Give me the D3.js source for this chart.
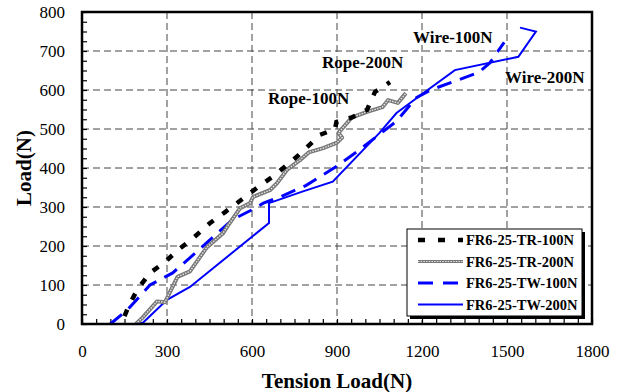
<!DOCTYPE html>
<html>
<head>
<meta charset="utf-8">
<script src="https://cdn.jsdelivr.net/npm/d3@7"></script>
<style>
  body { margin: 0; background: #fff; }
  svg { font-family: "Liberation Serif", "Times New Roman", serif; }
</style>
</head>
<body>
<div id="chart"></div>
<script>
// tension load (N), load (N)
const tr100 = [[150,20],[162,41],[194,87],[240,131],[293,159],[339,190],[392,220],[452,259],[505,287],[565,320],[621,351],[681,382],[760,430],[840,485],[893,500],[898,518],[953,530],[1006,549],[1034,595],[1087,620]];
const tr200 = [[190,0],[212,15],[265,58],[293,56],[337,121],[381,135],[441,197],[498,233],[512,249],[558,297],[593,310],[604,326],[663,343],[688,361],[723,395],[769,420],[800,440],[851,451],[900,465],[918,478],[905,490],[953,530],[1006,544],[1060,556],[1080,574],[1115,567],[1143,592]];
const tw100 = [[100,0],[160,36],[240,100],[320,131],[400,182],[530,267],[603,294],[640,310],[700,326],[790,355],[900,405],[980,447],[1110,520],[1180,580],[1230,600],[1400,645],[1440,670],[1490,722]];
const tw200 = [[190,0],[215,3],[300,62],[381,95],[660,259],[660,310],[780,340],[885,365],[1050,490],[1110,541],[1220,600],[1316,651],[1540,685],[1602,750],[1546,760]];

const xTicks = [0, 300, 600, 900, 1200, 1500, 1800];
const yTicks = [0, 100, 200, 300, 400, 500, 600, 700, 800];

const labels = [
  { text: "Rope-100N", x: 268, y: 98 },
  { text: "Rope-200N", x: 322, y: 62 },
  { text: "Wire-100N", x: 413, y: 37 },
  { text: "Wire-200N", x: 505, y: 77 },
];
const legendNames = ["FR6-25-TR-100N", "FR6-25-TR-200N", "FR6-25-TW-100N", "FR6-25-TW-200N"];

const width = 619, height = 392;
const m = { left: 82, right: 592, top: 12, bottom: 324 };

const svg = d3.select("#chart").append("svg")
  .attr("width", width).attr("height", height);

const x = d3.scaleLinear().domain([0, 1800]).range([m.left, m.right]);
const y = d3.scaleLinear().domain([0, 800]).range([m.bottom, m.top]);

// dashed grid
const grid = svg.append("g").attr("stroke", "#444").attr("stroke-width", 1).attr("stroke-dasharray", "7,4");
grid.selectAll(".gx").data(xTicks.slice(1, -1)).join("line").attr("class", "gx")
  .attr("x1", (d) => x(d)).attr("x2", (d) => x(d)).attr("y1", m.top).attr("y2", m.bottom);
grid.selectAll(".gy").data(yTicks.slice(1, -1)).join("line").attr("class", "gy")
  .attr("y1", (d) => y(d)).attr("y2", (d) => y(d)).attr("x1", m.left).attr("x2", m.right);

// minor ticks, inward
svg.append("g").attr("transform", `translate(0,${m.bottom})`)
  .call(d3.axisBottom(x).tickValues(d3.range(0, 1801, 50)).tickSize(-5).tickFormat(""))
  .call((g) => g.select(".domain").remove())
  .call((g) => g.selectAll("line").attr("stroke", "#000").attr("stroke-width", 1.2));
svg.append("g").attr("transform", `translate(${m.left},0)`)
  .call(d3.axisLeft(y).tickValues(d3.range(0, 801, 25)).tickSize(-5).tickFormat(""))
  .call((g) => g.select(".domain").remove())
  .call((g) => g.selectAll("line").attr("stroke", "#000").attr("stroke-width", 1.2));

// tick labels
svg.append("g").attr("transform", `translate(0,${m.bottom})`)
  .call(d3.axisBottom(x).tickValues(xTicks).tickFormat(d3.format("d")).tickSize(0).tickPadding(21))
  .call((g) => g.select(".domain").remove())
  .call((g) => g.selectAll("text").attr("font-size", 17).attr("font-family", "Liberation Serif").attr("fill", "#000"));
svg.append("g").attr("transform", `translate(${m.left},0)`)
  .call(d3.axisLeft(y).tickValues(yTicks).tickFormat(d3.format("d")).tickSize(0).tickPadding(17))
  .call((g) => g.select(".domain").remove())
  .call((g) => g.selectAll("text").attr("font-size", 17).attr("font-family", "Liberation Serif").attr("fill", "#000"));

const line = d3.line().x((d) => x(d[0])).y((d) => y(d[1]));
const plot = svg.append("g");

// series
plot.append("path").datum(tw200).attr("d", line)
  .attr("fill", "none").attr("stroke", "#0000ff").attr("stroke-width", 2);
plot.append("path").datum(tw100).attr("d", line)
  .attr("fill", "none").attr("stroke", "#0000ff").attr("stroke-width", 3).attr("stroke-dasharray", "15,9");
plot.append("path").datum(tr200).attr("d", line)
  .attr("fill", "none").attr("stroke", "#777").attr("stroke-width", 4).attr("stroke-linejoin", "round");
plot.append("path").datum(tr200).attr("d", line)
  .attr("fill", "none").attr("stroke", "#e6e6e6").attr("stroke-width", 1.4).attr("stroke-dasharray", "1.5,1.2");
plot.append("path").datum(tr100).attr("d", line)
  .attr("fill", "none").attr("stroke", "#000").attr("stroke-width", 4.5).attr("stroke-dasharray", "7,11");

// frame
svg.append("rect").attr("x", m.left).attr("y", m.top).attr("width", m.right - m.left).attr("height", m.bottom - m.top)
  .attr("fill", "none").attr("stroke", "#000").attr("stroke-width", 2.5);

// curve labels
svg.append("g").selectAll("text").data(labels).join("text")
  .attr("x", (d) => d.x).attr("y", (d) => d.y).attr("dy", "0.35em")
  .attr("font-size", 17).attr("font-weight", "bold").text((d) => d.text);

// axis titles
svg.append("text").attr("x", 337).attr("y", 381).attr("dy", "0.35em").attr("text-anchor", "middle")
  .attr("font-size", 21).attr("font-weight", "bold").text("Tension Load(N)");
svg.append("text").attr("transform", "translate(24,168) rotate(-90)").attr("dy", "0.35em").attr("text-anchor", "middle")
  .attr("font-size", 21).attr("font-weight", "bold").text("Load(N)");

// legend
const lg = svg.append("g").attr("transform", "translate(407,229)");
lg.append("rect").attr("x", 3).attr("y", 3).attr("width", 175).attr("height", 87).attr("fill", "#000");
lg.append("rect").attr("width", 175).attr("height", 87).attr("fill", "#fff").attr("stroke", "#000").attr("stroke-width", 1);
const row = lg.selectAll(".row").data(legendNames).join("g").attr("class", "row")
  .attr("transform", (d, i) => `translate(0,${11 + i * 21.5})`);
row.append("text").attr("x", 59).attr("dy", "0.35em").attr("font-size", 14.5).attr("font-weight", "bold").text((d) => d);
const styles = [
  { stroke: "#000", w: 4.5, dash: "7,13" },
  { stroke: "#777", w: 3, dash: null },
  { stroke: "#0000ff", w: 3, dash: "15,10" },
  { stroke: "#0000ff", w: 2, dash: null },
];
row.append("line").attr("x1", 11).attr("x2", 56)
  .attr("stroke", (d, i) => styles[i].stroke).attr("stroke-width", (d, i) => styles[i].w)
  .attr("stroke-dasharray", (d, i) => styles[i].dash);
row.filter((d, i) => i === 1).append("line").attr("x1", 11).attr("x2", 56)
  .attr("stroke", "#e6e6e6").attr("stroke-width", 1).attr("stroke-dasharray", "1.5,1.2");
</script>
</body>
</html>
